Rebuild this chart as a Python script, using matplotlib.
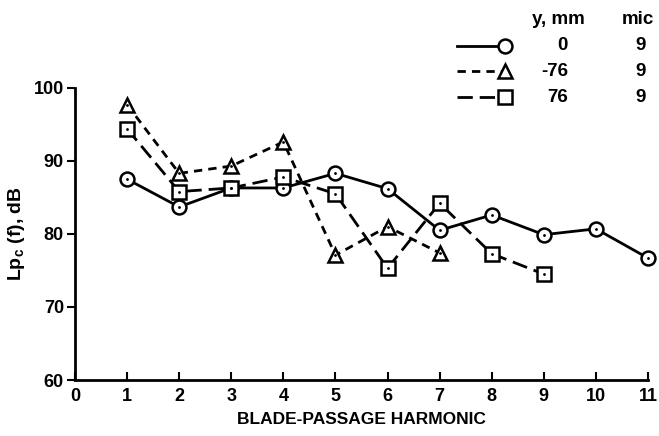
import matplotlib
matplotlib.use('Agg')
import matplotlib.pyplot as plt
from matplotlib.lines import Line2D

plt.rcParams['font.family'] = ['Liberation Sans', 'DejaVu Sans']
plt.rcParams['font.weight'] = 'bold'
plt.rcParams['mathtext.fontset'] = 'custom'
plt.rcParams['mathtext.bf'] = 'Liberation Sans:bold'

# harmonic number and measured levels for each microphone offset
harm_0 = [1, 2, 3, 4, 5, 6, 7, 8, 9, 10, 11]
lp_0 = [87.5, 83.7, 86.3, 86.3, 88.3, 86.2, 80.5, 82.6, 79.9, 80.7, 76.7]

harm_m76 = [1, 2, 3, 4, 5, 6, 7]
lp_m76 = [97.7, 88.3, 89.3, 92.6, 77.1, 81.0, 77.4]

harm_p76 = [1, 2, 3, 4, 5, 6, 7, 8, 9]
lp_p76 = [94.4, 85.8, 86.3, 87.8, 85.5, 75.3, 84.2, 77.3, 74.5]

y_labels = ['0', '-76', '76']
mic_labels = ['9', '9', '9']

fig = plt.figure(figsize=(6.59, 4.36), dpi=100)
ax = fig.add_axes([0.1138, 0.1284, 0.8695, 0.67])

styles = [
    (harm_0, lp_0, 'o', '-'),
    (harm_m76, lp_m76, '^', (0, (3, 2.2))),
    (harm_p76, lp_p76, 's', (0, (5.5, 2.5))),
]
for xs, ys, mk, ls in styles:
    ax.plot(xs, ys, color='black', lw=2, linestyle=ls, marker=mk,
            markersize=10, markerfacecolor='white', markeredgewidth=1.8,
            zorder=3, clip_on=False)
    # small dot in the middle of each symbol
    ax.plot(xs, ys, linestyle='none', marker='.', markersize=2,
            color='black', zorder=4, clip_on=False)

ax.set_xlim(0, 11)
ax.set_ylim(60, 100)
ax.set_xticks(range(0, 12))
ax.set_yticks([60, 70, 80, 90, 100])
ax.spines['top'].set_visible(False)
ax.spines['right'].set_visible(False)
ax.spines['left'].set_linewidth(2)
ax.spines['bottom'].set_linewidth(2)
ax.tick_params(axis='x', direction='in', length=6, width=1.5,
               labelsize=13, pad=6)
ax.tick_params(axis='y', direction='out', length=6, width=1.5,
               labelsize=13, pad=2)
for lab in ax.get_xticklabels() + ax.get_yticklabels():
    lab.set_fontweight('bold')

ax.set_xlabel('BLADE-PASSAGE HARMONIC', fontsize=12.5, fontweight='bold',
              labelpad=5)
ax.set_ylabel(r'Lp$_\mathbf{c}$ (f), dB', fontsize=14, fontweight='bold',
              labelpad=5)

# key drawn in figure pixel coordinates
W, H = 659, 436
def fx(px):
    return px / W
def fy(py):
    return 1 - py / H

fig.text(fx(558), fy(20), 'y, mm', fontsize=13.5, fontweight='bold',
         ha='center', va='center')
fig.text(fx(638), fy(20), 'mic', fontsize=13.5, fontweight='bold',
         ha='center', va='center')
rows_y = [46, 71, 97]
for (xs, ys, mk, ls), yl, ml, ry in zip(styles, y_labels, mic_labels, rows_y):
    fig.add_artist(Line2D(
        [fx(457), fx(505)], [fy(ry), fy(ry)], color='black', lw=2,
        linestyle=ls, transform=fig.transFigure))
    fig.add_artist(Line2D(
        [fx(505)], [fy(ry)], marker=mk, markersize=10, color='black',
        markerfacecolor='white', markeredgewidth=1.8,
        transform=fig.transFigure))
    fig.text(fx(568), fy(ry), yl, fontsize=13.5, fontweight='bold',
             ha='right', va='center')
    fig.text(fx(641), fy(ry), ml, fontsize=13.5, fontweight='bold',
             ha='center', va='center')

fig.savefig('out.png', dpi=100)
